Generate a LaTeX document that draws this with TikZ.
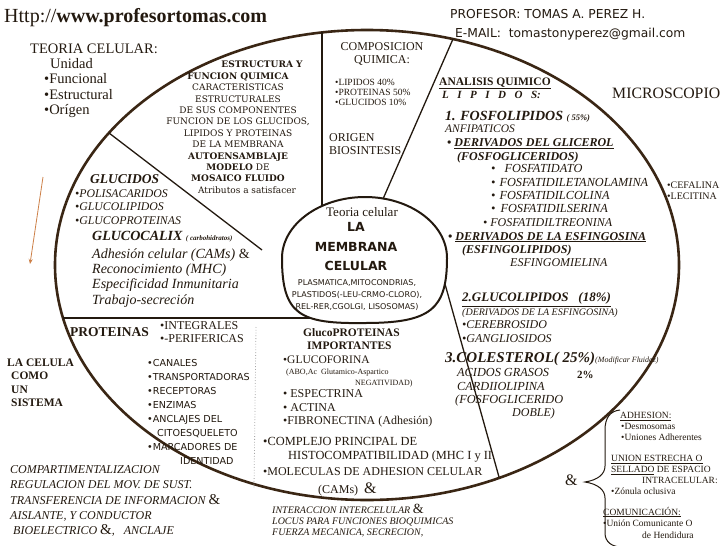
\documentclass[tikz,border=0pt]{standalone}
\usepackage{fontspec}
\setmainfont{Liberation Serif}
\newfontfamily\comic{DejaVu Sans}
\newfontfamily\bookman{DejaVu Serif}
\usepackage{tikz}
\usetikzlibrary{arrows.meta}

\definecolor{ink}{RGB}{35,25,15}
\definecolor{rim}{RGB}{58,38,20}
\definecolor{arrowc}{RGB}{205,128,72}
\newcommand\fs[2]{\fontsize{#1}{#2}\selectfont}

\begin{document}
\begin{tikzpicture}[x=1pt,y=-1pt,
  lbl/.style={anchor=base west,inner sep=0pt,text=ink,align=left},
  clbl/.style={anchor=base,inner sep=0pt,text=ink,align=center},
  divider/.style={draw=ink,line width=1.3pt},
  rimline/.style={draw=rim,line width=2.6pt}]
\useasboundingbox[fill=white] (0,0) rectangle (728,546);

% big cell
\draw[rimline] (367,265) ellipse [x radius=312pt, y radius=235pt];
% the membrane in the middle
\draw[line width=2pt,draw=ink] (365,197) .. controls (410,197) and (447,224) .. (447,258)
  .. controls (447,309) and (431,323) .. (365,323) .. controls (300,324) and (282,315) .. (282,258)
  .. controls (282,225) and (319,197) .. (365,197);

% sectors
\draw[divider] (322,32) -- (322,206);
\draw[divider] (453,39) -- (383,199);
\draw[divider] (109,133) -- (262,250);
\draw[divider] (63,318) -- (310,318);
\draw[divider] (445,284) -- (499,477);
\draw[gray!70,dotted,line width=0.8pt] (256,327) -- (254,488);

% brace and arrow
\draw[ink,line width=1pt] (620,410) .. controls (610,411) and (605,418) .. (605,430) -- (605,466)
  .. controls (605,474) and (598,480) .. (585,482) .. controls (598,484) and (605,490) .. (605,498)
  -- (605,533) .. controls (605,542) and (612,547) .. (622,547);
\coordinate (arrtop) at (43,177);
\coordinate (arrbot) at (30,264);
\draw[arrowc,line width=0.8pt,-{Stealth[length=5pt,width=4pt]}] (arrtop) -- (arrbot);

% header
\node[lbl,font=\fs{20}{22}] (web) at (4,22) {Http://\textbf{www.profesortomas.com}};
\node[lbl,font=\comic\fs{12.3}{19}] (prof) at (450,18) {PROFESOR: TOMAS A. PEREZ H.};
\node[lbl,font=\comic\fs{12.3}{19}] (mail) at (455,37) {E-MAIL:\ \ tomastonyperez@gmail.com};

% top left (multi-line nodes sit on their last baseline)
\node[lbl,font=\fs{14.5}{15.6}] (teoria) at (30,53) {TEORIA CELULAR:};
\node[lbl,font=\fs{14.5}{15.6}] (atrib) at (44,{68+3*15.6}) {\hspace*{6pt}Unidad\\•Funcional\\•Estructural\\•Orígen};

% estructura
\node[clbl,font=\bookman\bfseries\fs{9}{11.4}] (estr) at (262,67.3) {ESTRUCTURA Y};
\node[clbl,font=\bookman\fs{9}{11.4}] (funcion) at (238,{79.3+10*11.4}) {\textbf{FUNCION QUIMICA}\\CARACTERISTICAS\\ESTRUCTURALES\\DE SUS COMPONENTES\\FUNCION DE LOS GLUCIDOS,\\LIPIDOS Y PROTEINAS\\DE LA MEMBRANA\\\textbf{AUTOENSAMBLAJE}\\\textbf{MODELO} DE\\\textbf{MOSAICO FLUIDO}\\\hspace*{18pt}Atributos a satisfacer};

% composicion
\node[clbl,font=\fs{12}{13.3}] (compo) at (382,{50+13.3}) {COMPOSICION\\QUIMICA:};
\node[lbl,font=\fs{9.5}{10.4}] (porc) at (335,{85+2*10.4}) {•LIPIDOS 40\%\\•PROTEINAS 50\%\\•GLUCIDOS 10\%};
\node[lbl,font=\fs{12}{12.4}] (origen) at (329,{141.7+12.4}) {ORIGEN\\BIOSINTESIS};

% membrana
\node[clbl,font=\fs{13}{14}] (teoriac) at (362,216) {Teoria celular};
\node[clbl,font=\comic\bfseries\fs{12.5}{19.5}] (membrana) at (356,{231.7+2*19.5}) {LA\\MEMBRANA\\CELULAR};
\node[clbl,font=\comic\fs{8}{12.2}] (organ) at (357,{285+2*12.2}) {PLASMATICA,MITOCONDRIAS,\\PLASTIDOS(-LEU-CRMO-CLORO),\\REL-RER,CGOLGI, LISOSOMAS)};

% lipidos
\node[lbl,font=\bfseries\fs{11.5}{13}] (analisis) at (439,85) {\underline{ANALISIS QUIMICO}};
\node[lbl,font=\bfseries\itshape\fs{11}{13}] (lipidos) at (442,98) {L\hspace{8.5pt}I\hspace{8.5pt}P\hspace{8.5pt}I\hspace{8.5pt}D\hspace{8.5pt}O\hspace{8.5pt}S:};
\node[lbl,font=\fs{15.8}{17}] (micro) at (612,98) {MICROSCOPIO};
\node[lbl,font=\bfseries\itshape\fs{14}{16}] (fosfo) at (445,120.7) {1. FOSFOLIPIDOS {\fs{8.5}{10}( 55\%)}};
\node[lbl,font=\itshape\fs{11.5}{11}] (anfi) at (445,132.3) {ANFIPATICOS};
\node[lbl,font=\bfseries\itshape\fs{12}{13.3}] (glicerol) at (447,{146.7+13.3}) {• \underline{DERIVADOS DEL GLICEROL}\\\hspace*{10pt}(FOSFOGLICERIDOS)};
\node[lbl,font=\itshape\fs{12.3}{13.3}] (fosfatidos) at (491,{172.7+3*13.3}) {•\hspace{9pt}FOSFATIDATO\\•\hspace{4pt}FOSFATIDILETANOLAMINA\\•\hspace{4pt}FOSFATIDILCOLINA\\•\hspace{5pt}FOSFATIDILSERINA};
\node[lbl,font=\itshape\fs{12}{13}] (treonina) at (483,226.7) {• FOSFATIDILTREONINA};
\node[lbl,font=\bfseries\itshape\fs{12}{13.3}] (esfingo) at (448,{240+13.3}) {• \underline{DERIVADOS DE LA ESFINGOSINA}\\\hspace*{14pt}(ESFINGOLIPIDOS)};
\node[lbl,font=\itshape\fs{12}{13}] (mielina) at (510,266.7) {ESFINGOMIELINA};
\node[lbl,font=\fs{10}{11}] (cefalina) at (667,{188.3+11}) {•CEFALINA\\•LECITINA};

\node[lbl,font=\bfseries\itshape\fs{13}{15}] (glucolip) at (462,301.7) {\underline{2.GLUCOLIPIDOS\ \ \ (18\%)}};
\node[lbl,font=\itshape\fs{10}{13.5}] (deriv) at (462,315) {(DERIVADOS DE LA ESFINGOSINA)};
\node[lbl,font=\itshape\fs{12}{14.2}] (cerebro) at (462,{328.3+14.2}) {•CEREBROSIDO\\•GANGLIOSIDOS};
\node[lbl,font=\bfseries\itshape\fs{15}{16}] (coles) at (445,362.7) {3.COLESTEROL( 25\%)};
\node[lbl,font=\itshape\fs{8}{10}] (fluidez) at (595,362.7) {(Modificar Fluidez)};
\node[lbl,font=\itshape\fs{12.3}{13.3}] (acidos) at (455,{376.7+2*13.3}) {\hspace*{2pt}ACIDOS GRASOS\\\hspace*{2pt}CARDIIOLIPINA\\(FOSFOGLICERIDO};
\node[lbl,font=\itshape\fs{12}{13}] (doble) at (512,416.7) {DOBLE)};
\node[lbl,font=\bfseries\fs{11}{13}] (dos) at (577,378) {2\%};

% glucidos
\node[lbl,font=\bfseries\itshape\fs{13.5}{15}] (glucidos) at (90,183.3) {GLUCIDOS};
\node[lbl,font=\itshape\fs{11.8}{13.5}] (poli) at (75,{197.3+2*13.5}) {•POLISACARIDOS\\•GLUCOLIPIDOS\\•GLUCOPROTEINAS};
\node[lbl,font=\bfseries\itshape\fs{14}{15}] (calix) at (92,240) {GLUCOCALIX {\fs{7}{8}( carbohidratos)}};
\node[lbl,font=\itshape\fs{14}{15.3}] (adhes) at (92,{258.3+3*15.3}) {Adhesión celular (CAMs) {\upshape\&}\\Reconocimiento (MHC)\\Especificidad Inmunitaria\\Trabajo-secreción};

% proteinas
\node[lbl,font=\bfseries\fs{13.5}{15}] (prot) at (70,336) {PROTEINAS};
\node[lbl,font=\fs{12}{13.4}] (integ) at (160,{329.3+13.4}) {•INTEGRALES\\•-PERIFERICAS};
\node[lbl,font=\bfseries\fs{11.5}{13.5}] (celula) at (7,{366+3*13.5}) {LA CELULA\\\hspace*{4pt}COMO\\\hspace*{4pt}UN\\\hspace*{4pt}SISTEMA};
\node[lbl,font=\comic\fs{9.6}{14}] (canales) at (147,{366.7+7*14}) {•CANALES\\•TRANSPORTADORAS\\•RECEPTORAS\\•ENZIMAS\\•ANCLAJES DEL\\\hspace*{10pt}CITOESQUELETO\\•MARCADORES DE\\\hspace*{33pt}IDENTIDAD};

\node[lbl,font=\bfseries\fs{11.5}{13.3}] (gprot) at (303,{336+13.3}) {GlucoPROTEINAS\\\hspace*{4pt}IMPORTANTES};
\node[lbl,font=\fs{11.5}{13}] (glucof) at (283,363.3) {•GLUCOFORINA};
\node[lbl,font=\fs{8}{11}] (abo) at (286,{374+11}) {(ABO,Ac\ \ Glutamico-Aspartico\\\hspace*{69pt}NEGATIVIDAD)};
\node[lbl,font=\fs{12}{13.6}] (espec) at (283,{397.7+2*13.6}) {• ESPECTRINA\\• ACTINA\\•FIBRONECTINA (Adhesión)};
\node[lbl,font=\fs{12.4}{14.3}] (mhc) at (263,{445+14.3}) {•COMPLEJO PRINCIPAL DE\\\hspace*{25pt}HISTOCOMPATIBILIDAD (MHC I y II};
\node[lbl,font=\fs{12}{17.6}] (cams) at (263,{475.7+17.6}) {•MOLECULAS DE ADHESION CELULAR\\\hspace*{55pt}(CAMs)\ \ {\fs{16}{16}\&}};

% funciones
\node[lbl,font=\itshape\fs{12}{15.4}] (compart) at (10,{473.3+4*15.4}) {COMPARTIMENTALIZACION\\REGULACION DEL MOV. DE SUST.\\TRANSFERENCIA DE INFORMACION {\upshape\fs{15}{15}\&}\\AISLANTE, Y CONDUCTOR\\\hspace*{3pt}BIOELECTRICO {\upshape\fs{15}{15}\&},\ \ \ ANCLAJE};
\node[lbl,font=\itshape\fs{10}{11}] (inter) at (272,{513.3+2*11}) {INTERACCION INTERCELULAR {\upshape\fs{14}{14}\&}\\LOCUS PARA FUNCIONES BIOQUIMICAS\\FUERZA MECANICA, SECRECION,};

% uniones
\node[lbl,font=\fs{16}{16}] (amp) at (565,485) {\&};
\node[lbl,font=\fs{9.5}{11.2}] (adhesion) at (620,{418.3+2*11.2}) {\underline{ADHESION:}\\\hspace*{1pt}•Desmosomas\\\hspace*{1pt}•Uniones Adherentes};
\node[lbl,font=\fs{9.5}{10.8}] (union) at (611,{461.7+3*10.8}) {\underline{UNION ESTRECHA O}\\\underline{SELLADO} DE ESPACIO\\\hspace*{31pt}INTRACELULAR:\\•Zónula oclusiva};
\node[lbl,font=\fs{9.5}{11.7}] (comun) at (603,{515+2*11.7}) {\underline{COMUNICACIÓN:}\\•Unión Comunicante O\\\hspace*{39pt}de Hendidura};
\end{tikzpicture}
\end{document}
